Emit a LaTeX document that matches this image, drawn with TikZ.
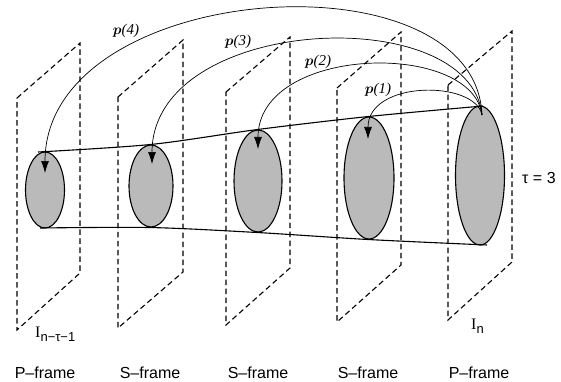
\documentclass[tikz,border=0pt]{standalone}
\usepackage{fontspec}
\usepackage{bm}
\setmainfont{Liberation Serif}
\setsansfont{Liberation Sans}
\usetikzlibrary{arrows.meta,shapes.geometric}
\begin{document}
\begin{tikzpicture}[x=1pt,y=-1pt,
  framebox/.style={dash pattern=on 5.5pt off 3.5pt,line width=1.1pt},
  blob/.style={ellipse,draw,line width=1.1pt,fill=black!27,inner sep=0pt},
  link/.style={line width=0.7pt,-{Latex[length=12pt,width=8pt]}},
  edge/.style={line width=1.1pt},
  lbl/.style={font=\sffamily\fontsize{16}{18}\selectfont,inner sep=0pt},
  plbl/.style={font=\fontsize{15}{17}\selectfont,inner sep=0pt}]
\useasboundingbox (0,0) rectangle (561,382);
% frames
\draw[framebox] (17,98) -- (80,43) -- (80,273) -- (17,330) -- cycle;
\draw[framebox] (118,97) -- (183,40) -- (183,272) -- (118,328) -- cycle;
\draw[framebox] (226,92) -- (290,37) -- (290,268) -- (226,325) -- cycle;
\draw[framebox] (337,88) -- (401,32) -- (401,265) -- (337,322) -- cycle;
\draw[framebox] (448,85) -- (512,31) -- (512,262) -- (448,320) -- cycle;
% ellipses
\node[blob,minimum width=39pt,minimum height=76pt] (e1) at (45,190) {};
\node[blob,minimum width=44pt,minimum height=82pt] (e2) at (151,186) {};
\node[blob,minimum width=48pt,minimum height=102pt] (e3) at (258,181) {};
\node[blob,minimum width=50pt,minimum height=122pt] (e4) at (369,178) {};
\node[blob,minimum width=49pt,minimum height=139pt] (e5) at (480,175.5) {};
% top and bottom lines
\draw[edge] plot[smooth,tension=0.5] coordinates {(38,152) (e2.north) (e3.north) (e4.north) (483,106)};
\draw[edge] plot[smooth,tension=0.5] coordinates {(40,228) (e2.south) (e3.south) (e4.south) (487,245)};
% arcs
\coordinate (src) at (482,115);
\coordinate (t1) at (45,173);
\coordinate (t2) at (152,164);
\coordinate (t3) at (258,149);
\coordinate (t4) at (368,139);
\draw[link] (src) .. controls (475,-50) and (45,-20) .. (t1);
\draw[link] (src) .. controls (470,0) and (152,15) .. (t2);
\draw[link] (src) .. controls (472,40) and (258,45) .. (t3);
\draw[link] (src) .. controls (475,80) and (368,80) .. (t4);
% arc labels
\node[plbl] (p4) at (126,31) {$\bm{p}$\textit{(4)}};
\node[plbl] (p3) at (238,42) {$\bm{p}$\textit{(3)}};
\node[plbl] (p2) at (318,62) {$\bm{p}$\textit{(2)}};
\node[plbl] (p1) at (378,90) {$\bm{p}$\textit{(1)}};
% tau
\node[lbl,anchor=west] (tau) at (522,178) {τ = 3};
% I labels
\node[anchor=west,inner sep=0pt] (i1) at (35,334) {\fontsize{16}{18}\selectfont I\raisebox{-4pt}{\sffamily\fontsize{13}{15}\selectfont n−τ−1}};
\node[anchor=west,inner sep=0pt] (i5) at (471,326) {\fontsize{16}{18}\selectfont I\raisebox{-4pt}{\sffamily\fontsize{13}{15}\selectfont n}};
% frame labels
\node[lbl] (f1) at (45,373) {P–frame};
\node[lbl] (f2) at (150,373) {S–frame};
\node[lbl] (f3) at (258,373) {S–frame};
\node[lbl] (f4) at (368,373) {S–frame};
\node[lbl] (f5) at (479,373) {P–frame};
\end{tikzpicture}
\end{document}
